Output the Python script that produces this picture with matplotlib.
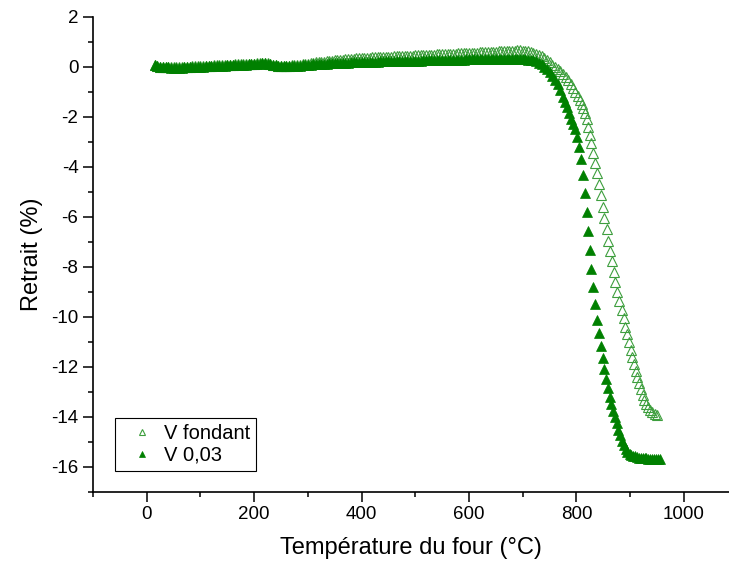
import numpy as np
import matplotlib.pyplot as plt
from matplotlib.ticker import MultipleLocator

plt.rcParams['font.family'] = ['Liberation Sans', 'DejaVu Sans']
plt.rcParams['axes.unicode_minus'] = False

# flat part, both samples read on the same temperature grid
t_flat = [15, 20, 25, 30, 35, 40, 45, 50, 55, 60, 65, 70, 75, 80, 85, 90, 95, 100, 105, 110,
          115, 120, 125, 130, 135, 140, 145, 150, 155, 160, 165, 170, 175, 180, 185, 190, 195, 200, 205, 210,
          215, 220, 225, 230, 235, 240, 245, 250, 255, 260, 265, 270, 275, 280, 285, 290, 295, 300, 305, 310,
          315, 320, 325, 330, 335, 340, 345, 350, 355, 360, 365, 370, 375, 380, 385, 390, 395, 400, 405, 410,
          415, 420, 425, 430, 435, 440, 445, 450, 455, 460, 465, 470, 475, 480, 485, 490, 495, 500, 505, 510,
          515, 520, 525, 530, 535, 540, 545, 550, 555, 560, 565, 570, 575, 580, 585, 590, 595, 600, 605, 610,
          615, 620, 625, 630, 635, 640, 645, 650, 655, 660, 665, 670, 675, 680, 685, 690, 695, 700]

# V fondant (open triangles)
r_fondant_flat = [0.06, 0.02, 0.0, -0.01, -0.02, -0.02, -0.02, -0.02, -0.02, -0.02, -0.01, -0.01, 0.0, 0.0, 0.01, 0.01, 0.02, 0.02, 0.03, 0.03,
                  0.04, 0.04, 0.05, 0.05, 0.06, 0.06, 0.07, 0.07, 0.08, 0.08, 0.09, 0.09, 0.10, 0.10, 0.11, 0.11, 0.12, 0.12, 0.13, 0.13,
                  0.14, 0.14, 0.13, 0.11, 0.08, 0.06, 0.04, 0.03, 0.03, 0.03, 0.04, 0.05, 0.06, 0.07, 0.08, 0.09, 0.11, 0.12, 0.14, 0.15,
                  0.17, 0.18, 0.19, 0.20, 0.22, 0.23, 0.24, 0.25, 0.26, 0.27, 0.28, 0.29, 0.30, 0.31, 0.32, 0.33, 0.34, 0.35, 0.35, 0.36,
                  0.36, 0.37, 0.37, 0.38, 0.38, 0.39, 0.39, 0.40, 0.40, 0.41, 0.41, 0.42, 0.42, 0.43, 0.43, 0.44, 0.44, 0.45, 0.45, 0.46,
                  0.46, 0.47, 0.47, 0.48, 0.48, 0.49, 0.49, 0.50, 0.50, 0.51, 0.51, 0.52, 0.52, 0.53, 0.53, 0.54, 0.54, 0.55, 0.55, 0.56,
                  0.56, 0.57, 0.57, 0.58, 0.58, 0.59, 0.59, 0.60, 0.61, 0.62, 0.62, 0.63, 0.63, 0.64, 0.64, 0.65, 0.65, 0.64]
t_fondant_end = [705, 710, 715, 720, 725, 730, 735, 740, 745, 750, 755, 760, 765, 770, 775, 780, 785, 790, 794, 798,
                 802, 806, 810, 813, 816, 819, 822, 825, 828, 831, 834, 838, 842, 846, 849, 852, 856, 859, 862, 866,
                 869, 872, 876, 880, 884, 888, 891, 894, 897, 901, 904, 907, 910, 913, 916, 920, 923, 926, 929, 933,
                 937, 941, 946, 950]
r_fondant_end = [0.63, 0.61, 0.59, 0.56, 0.52, 0.47, 0.41, 0.34, 0.26, 0.17, 0.07, -0.02, -0.10, -0.18, -0.30, -0.42, -0.55, -0.70, -0.84, -1.00,
                 -1.17, -1.33, -1.50, -1.65, -1.85, -2.10, -2.40, -2.73, -3.07, -3.44, -3.84, -4.26, -4.69, -5.13, -5.60, -6.06, -6.50, -6.96, -7.36, -7.77,
                 -8.20, -8.60, -9.00, -9.38, -9.73, -10.07, -10.40, -10.70, -11.02, -11.33, -11.63, -11.90, -12.17, -12.43, -12.67, -12.90, -13.13, -13.33, -13.50, -13.63,
                 -13.73, -13.82, -13.88, -13.92]

# V 0,03 (filled triangles)
r_v003_flat = [0.06, 0.02, 0.0, -0.02, -0.03, -0.03, -0.04, -0.04, -0.04, -0.04, -0.04, -0.03, -0.03, -0.02, -0.02, -0.01, -0.01, 0.0, 0.0, 0.01,
               0.01, 0.02, 0.02, 0.03, 0.03, 0.04, 0.04, 0.05, 0.05, 0.06, 0.06, 0.07, 0.07, 0.08, 0.08, 0.09, 0.09, 0.10, 0.11, 0.12,
               0.13, 0.13, 0.12, 0.10, 0.07, 0.05, 0.03, 0.02, 0.01, 0.01, 0.01, 0.02, 0.02, 0.03, 0.04, 0.05, 0.06, 0.07, 0.08, 0.09,
               0.10, 0.10, 0.11, 0.12, 0.12, 0.13, 0.13, 0.14, 0.14, 0.15, 0.15, 0.16, 0.16, 0.17, 0.17, 0.18, 0.18, 0.19, 0.19, 0.19,
               0.20, 0.20, 0.20, 0.20, 0.21, 0.21, 0.21, 0.21, 0.22, 0.22, 0.22, 0.22, 0.23, 0.23, 0.23, 0.23, 0.24, 0.24, 0.24, 0.24,
               0.25, 0.25, 0.25, 0.25, 0.26, 0.26, 0.26, 0.26, 0.27, 0.27, 0.27, 0.27, 0.28, 0.28, 0.28, 0.28, 0.29, 0.29, 0.29, 0.29,
               0.30, 0.30, 0.30, 0.30, 0.31, 0.31, 0.31, 0.31, 0.32, 0.32, 0.32, 0.32, 0.32, 0.32, 0.32, 0.31, 0.31, 0.30]
t_v003_end = [705, 710, 715, 720, 725, 730, 735, 740, 745, 750, 755, 760, 765, 770, 775, 779, 782, 786, 790, 793,
              797, 801, 805, 808, 812, 815, 819, 822, 825, 828, 831, 835, 839, 842, 846, 849, 852, 855, 859, 862,
              865, 868, 871, 875, 878, 881, 885, 888, 892, 895, 899, 902, 906, 909, 913, 916, 920, 923, 927, 930,
              934, 937, 941, 944, 948, 951, 955]
r_v003_end = [0.29, 0.28, 0.27, 0.26, 0.22, 0.16, 0.09, 0.0, -0.11, -0.22, -0.36, -0.52, -0.70, -0.92, -1.20, -1.42, -1.60, -1.85, -2.10, -2.30,
              -2.50, -2.82, -3.22, -3.70, -4.33, -5.04, -5.80, -6.56, -7.33, -8.10, -8.82, -9.50, -10.13, -10.67, -11.17, -11.67, -12.10, -12.50, -12.86, -13.20,
              -13.50, -13.77, -14.02, -14.26, -14.55, -14.75, -14.98, -15.15, -15.30, -15.40, -15.48, -15.53, -15.57, -15.59, -15.62, -15.64, -15.65, -15.66, -15.67, -15.67,
              -15.68, -15.68, -15.69, -15.69, -15.70, -15.70, -15.70]

t_fondant = t_flat + t_fondant_end
r_fondant = r_fondant_flat + r_fondant_end
t_v003 = t_flat + t_v003_end
r_v003 = r_v003_flat + r_v003_end

fig = plt.figure(figsize=(7.29, 5.69), dpi=100)
ax = fig.add_axes([0.1276, 0.1359, 0.8724, 0.8348])

ax.plot(t_fondant, r_fondant, linestyle='none', marker='^', markersize=6.8,
        markerfacecolor='none', markeredgecolor='#3d9e3d', markeredgewidth=0.8, label='V fondant')
ax.plot(t_v003, r_v003, linestyle='none', marker='^', markersize=6.8,
        color='#008000', markeredgewidth=0.5, label='V 0,03')

ax.set_xlim(-100, 1084)
ax.set_ylim(-17, 2)
ax.xaxis.set_major_locator(MultipleLocator(200))
ax.xaxis.set_minor_locator(MultipleLocator(100))
ax.yaxis.set_major_locator(MultipleLocator(2))
ax.yaxis.set_minor_locator(MultipleLocator(1))

for s in ['top', 'right']:
    ax.spines[s].set_visible(False)
for s in ['left', 'bottom']:
    ax.spines[s].set_linewidth(1.2)
ax.tick_params(which='major', direction='out', length=7, width=1.1, labelsize=13.5, colors='black')
ax.tick_params(which='minor', direction='out', length=3.8, width=1.1)

ax.set_xlabel('Température du four (°C)', fontsize=17, labelpad=10)
ax.set_ylabel('Retrait (%)', fontsize=17, labelpad=6)

leg = ax.legend(loc='lower left', bbox_to_anchor=(0.035, 0.044), borderaxespad=0,
                fontsize=14.5, markerscale=0.65, handlelength=2.1, handletextpad=0.0,
                borderpad=0.3, labelspacing=0.15, fancybox=False, framealpha=1)
leg.get_frame().set_edgecolor('black')
leg.get_frame().set_linewidth(0.8)

plt.savefig('out.png', dpi=100)
